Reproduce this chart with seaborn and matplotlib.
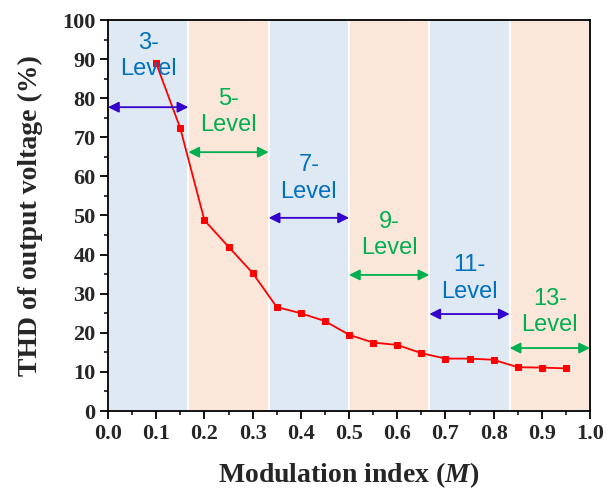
import matplotlib
matplotlib.use("Agg")
import matplotlib.pyplot as plt
import seaborn as sns
import pandas as pd

# data
m_index = [0.10, 0.15, 0.20, 0.25, 0.30, 0.35, 0.40, 0.45, 0.50, 0.55,
           0.60, 0.65, 0.70, 0.75, 0.80, 0.85, 0.90, 0.95]
thd = [88.9, 72.3, 48.8, 42.0, 35.3, 26.6, 25.0, 23.0, 19.5, 17.5,
       16.9, 14.8, 13.4, 13.4, 13.1, 11.2, 11.1, 10.9]

band_edges = [0.0, 1/6, 2/6, 3/6, 4/6, 5/6, 1.0]
band_colors = ["#dfe9f3", "#fbe6da", "#dfe9f3", "#fbe6da", "#dfe9f3", "#fbe6da"]
level_names = ["3-\nLevel", "5-\nLevel", "7-\nLevel", "9-\nLevel", "11-\nLevel", "13-\nLevel"]
label_y = [90.8, 76.5, 59.5, 45.0, 33.8, 25.3]
arrow_y = [77.7, 66.2, 49.4, 34.8, 24.8, 16.1]
text_colors = ["#0070C0", "#00B050", "#0070C0", "#00B050", "#0070C0", "#00B050"]
arrow_colors = ["#3300CC", "#00B050", "#3300CC", "#00B050", "#3300CC", "#00B050"]

xticks = [0.0, 0.1, 0.2, 0.3, 0.4, 0.5, 0.6, 0.7, 0.8, 0.9, 1.0]
yticks = [0, 10, 20, 30, 40, 50, 60, 70, 80, 90, 100]

sns.set_theme(style="ticks")
plt.rcParams['font.family'] = ['Liberation Serif', 'DejaVu Serif']
plt.rcParams['mathtext.fontset'] = 'custom'
plt.rcParams['mathtext.it'] = 'Liberation Serif:italic:bold'
plt.rcParams['mathtext.rm'] = 'Liberation Serif:bold'

fig = plt.figure(figsize=(6.07, 4.94), dpi=100)
ax = fig.add_axes([108/607, 1-411/494, (590-108)/607, (411-20)/494])

for i in range(len(band_colors)):
    ax.axvspan(band_edges[i], band_edges[i+1], color=band_colors[i], ec="white", lw=1.2, zorder=0)

df = pd.DataFrame({"M": m_index, "THD": thd})
sns.lineplot(data=df, x="M", y="THD", ax=ax, color="#ff0000", lw=1.3,
             marker="s", markersize=5, markeredgecolor="#ff0000", zorder=3)

for i in range(len(level_names)):
    x0, x1 = band_edges[i], band_edges[i+1]
    ax.annotate("", xy=(x0, arrow_y[i]), xytext=(x1, arrow_y[i]),
                arrowprops=dict(arrowstyle="<|-|>", color=arrow_colors[i], lw=1.3,
                                mutation_scale=16, shrinkA=0, shrinkB=0), zorder=4)
    ax.text((x0 + x1) / 2, label_y[i], level_names[i], ha="center", va="center",
            color=text_colors[i], fontsize=17, family=["Liberation Sans", "DejaVu Sans"],
            linespacing=1.28, zorder=5)

ax.set_xlim(0, 1.0)
ax.set_ylim(0, 100)
ax.set_xticks(xticks)
ax.set_yticks(yticks)
ax.set_xticklabels([f"{v:.1f}" for v in xticks], fontsize=16, fontweight="bold")
ax.set_yticklabels([str(v) for v in yticks], fontsize=16, fontweight="bold")
ax.set_xticks([v + 0.05 for v in xticks[:-1]], minor=True)
ax.set_yticks([v + 5 for v in yticks[:-1]], minor=True)
ax.tick_params(axis="both", which="major", direction="out", length=6, width=1.3, color="black", pad=3)
ax.tick_params(axis="both", which="minor", direction="out", length=3, width=1.1, color="black")
for s in ax.spines.values():
    s.set_color("black")
    s.set_linewidth(1.3)
ax.set_xlabel("Modulation index ($\\mathit{M}$)", fontsize=20, fontweight="bold", labelpad=12)
ax.set_ylabel("THD of output voltage (%)", fontsize=20, fontweight="bold", labelpad=14)

fig.savefig("out.png", dpi=100)
